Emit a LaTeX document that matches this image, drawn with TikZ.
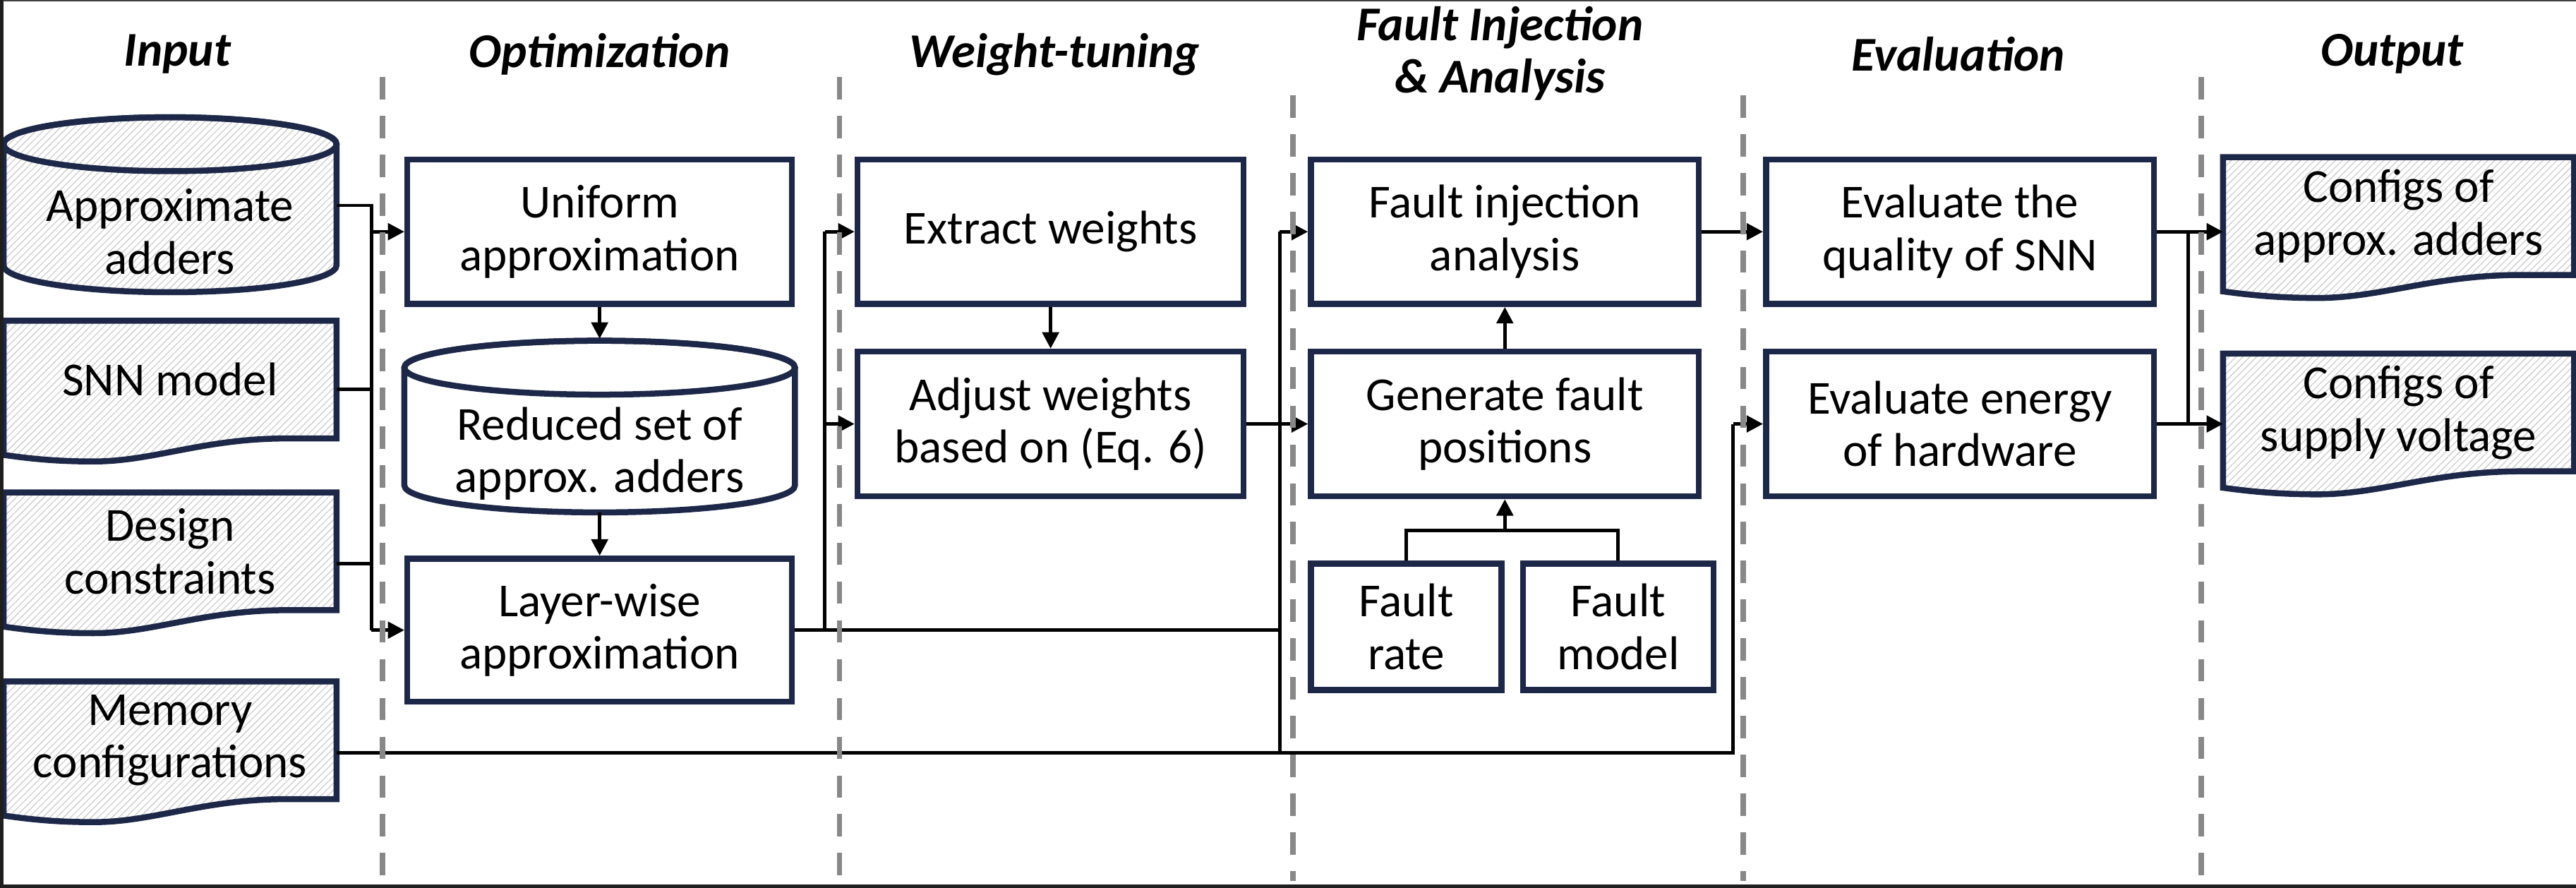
\documentclass[tikz,border=0pt]{standalone}
\usepackage{fontspec}
\setmainfont{Carlito}
\usetikzlibrary{arrows.meta,patterns,calc}
\pgfdeclarelayer{bg}
\pgfsetlayers{bg,main}
\definecolor{navy}{RGB}{29,40,72}
\definecolor{dashgray}{RGB}{136,136,136}

\tikzset{
 txt/.style={font=\fontsize{20.5}{22.8}\selectfont, align=center, inner sep=0pt},
 box/.style={txt, draw=navy, line width=2.6pt, fill=white, rectangle},
 hollow/.style={txt, rectangle, outer sep=1.3pt},
 hatch/.style={draw=navy, line width=2.6pt, preaction={fill=white}, pattern=north east lines, pattern color=gray!38},
 plainfill/.style={draw=navy, line width=2.6pt, fill=white},
 outline/.style={draw=navy, line width=2.6pt},
 head/.style={font=\fontsize{21}{22.8}\selectfont\bfseries\itshape, align=center, inner sep=0pt},
 conn/.style={line width=1.5pt, black},
 arr/.style={conn, -{Triangle[length=0.25cm,width=0.25cm]}},
 sep/.style={dashgray, line width=2.4pt, dash pattern=on 0.34cm off 0.25cm},
}

\newcommand{\docshape}[2]{%
 \path[#2] let \p1=(#1.south west), \p2=(#1.north east), \n1={\x2-\x1} in
  (\x1,\y2) -- (\x2,\y2) -- (\x2,\y1) -- (\x1+0.85*\n1,\y1)
  .. controls (\x1+0.6*\n1,\y1) and (\x1+0.45*\n1,\y1-0.35cm) .. (\x1+0.27*\n1,\y1-0.35cm)
  .. controls (\x1+0.15*\n1,\y1-0.35cm) and (\x1+0.07*\n1,\y1-0.3cm) .. (\x1,\y1-0.25cm) -- cycle;}

\newcommand{\cylshape}[3]{%
 \path[#2] let \p1=(#1.south west), \p2=(#1.north east), \n1={(\x2-\x1)/2} in
  (\x1,\y2+#3) -- (\x1,\y1+#3) arc[start angle=180,end angle=360,x radius=\n1,y radius=#3]
  -- (\x2,\y2+#3) arc[start angle=0,end angle=180,x radius=\n1,y radius=#3] -- cycle;
 \path[outline] let \p1=(#1.south west), \p2=(#1.north east), \n1={(\x2-\x1)/2} in
  (\x1+\n1,\y2+#3) ellipse[x radius=\n1,y radius=#3];}

\begin{document}
\begin{tikzpicture}[x=0.025cm,y=-0.025cm]
\useasboundingbox (0,0) rectangle (1568,540.4);

% headers
\node[head] (hIn) at (108,33) {Input};
\node[head] (hOpt) at (365,33) {Optimization};
\node[head] (hWt) at (642,33) {Weight-tuning};
\node[head] (hFi) at (913,32.5) {Fault Injection\\\& Analysis};
\node[head] (hEv) at (1192,33) {Evaluation};
\node[head] (hOut) at (1456,33) {Output};

% input column
\node[hollow, minimum width=4.975cm, minimum height=1.75cm] (cadd) at (103.5,141) {Approximate\\adders};
\node[hollow, minimum width=4.975cm, minimum height=1.7cm] (snn) at (103.5,231) {SNN model};
\node[hollow, minimum width=4.975cm, minimum height=1.7cm] (des) at (103.5,335.5) {Design\\constraints};
\node[hollow, minimum width=4.975cm, minimum height=1.7cm] (mem) at (103.5,450.5) {Memory\\configurations};

% optimization
\node[box, minimum width=5.85cm, minimum height=2.2cm] (uni) at (365,141) {Uniform\\approximation};
\node[hollow, minimum width=5.85cm, minimum height=1.7cm] (cred) at (365,276) {Reduced set of\\approx. adders};
\node[box, minimum width=5.85cm, minimum height=2.175cm] (lay) at (365,383.5) {Layer-wise\\approximation};

% weight tuning
\node[box, minimum width=5.875cm, minimum height=2.2cm] (ext) at (639.5,141) {Extract weights};
\node[box, minimum width=5.875cm, minimum height=2.2cm] (adj) at (639.5,258) {Adjust weights\\based on (Eq. 6)};

% fault injection
\node[box, minimum width=5.9cm, minimum height=2.2cm] (fia) at (916,141) {Fault injection\\analysis};
\node[box, minimum width=5.9cm, minimum height=2.2cm] (gen) at (916,258) {Generate fault\\positions};
\node[box, minimum width=2.9cm, minimum height=1.925cm] (frate) at (856,381.5) {Fault\\rate};
\node[box, minimum width=2.9cm, minimum height=1.925cm] (fmodel) at (985,381.5) {Fault\\model};

% evaluation
\node[box, minimum width=5.9cm, minimum height=2.2cm] (evq) at (1193,141) {Evaluate the\\quality of SNN};
\node[box, minimum width=5.9cm, minimum height=2.2cm] (eve) at (1193,258) {Evaluate energy\\of hardware};

% output
\node[hollow, minimum width=5.25cm, minimum height=1.7cm] (oadd) at (1460,131.5) {Configs of\\approx. adders};
\node[hollow, minimum width=5.25cm, minimum height=1.7cm] (ovol) at (1460,251) {Configs of\\supply voltage};

\begin{pgfonlayer}{bg}
 \cylshape{cadd}{hatch}{0.41cm}
 \cylshape{cred}{plainfill}{0.41cm}
 \docshape{snn}{hatch}
 \docshape{des}{hatch}
 \docshape{mem}{hatch}
 \docshape{oadd}{hatch}
 \docshape{ovol}{hatch}
\end{pgfonlayer}

% input bus
\coordinate (bA) at (226,125);
\coordinate (bS) at (226,237);
\coordinate (bD) at (226,343);
\coordinate (bU) at (226,141);
\coordinate (bL) at (226,383.5);
\draw[conn] (cadd.east |- bA) -- (bA) -- (bL);
\draw[conn] (snn.east |- bS) -- (bS);
\draw[conn] (des.east |- bD) -- (bD);
\draw[arr] (bU) -- (uni.west);
\draw[arr] (bL) -- (lay.west);

\coordinate (credtop) at ($(cred.north)+(0,-34)$);
\draw[arr] (uni.south) -- (credtop);
\draw[arr] (cred.south) -- (lay.north);

% weight tuning branch
\coordinate (wT) at (502,141);
\coordinate (wM) at (502,258);
\coordinate (wB) at (502,383.5);
\coordinate (fT) at (779,141);
\coordinate (fB) at (779,383.5);
\coordinate (fM) at (779,458);
\draw[conn] (lay.east) -- (fB);
\draw[conn] (wT) -- (wB);
\draw[arr] (wT) -- (ext.west);
\draw[arr] (wM) -- (adj.west);
\draw[conn] (fT) -- (fM);
\draw[arr] (fT) -- (fia.west);
\draw[arr] (ext.south) -- (adj.north);
\draw[arr] (adj.east) -- (gen.west);
\draw[arr] (gen.north) -- (fia.south);

\coordinate (jL) at (856,323);
\coordinate (jM) at (916,323);
\coordinate (jR) at (985,323);
\draw[conn] (frate.north) -- (jL) -- (jR) -- (fmodel.north);
\draw[arr] (jM) -- (gen.south);

% memory line
\coordinate (mE) at (1055,458);
\coordinate (mU) at (1055,258);
\draw[conn] (mem.east |- fM) -- (mE) -- (mU);
\draw[arr] (mU) -- (eve.west);

% evaluation and output
\draw[arr] (fia.east) -- (evq.west);
\draw[arr] (evq.east) -- (evq.east -| oadd.west);
\draw[arr] (eve.east) -- (eve.east -| ovol.west);
\coordinate (oT) at (1332,141);
\coordinate (oB) at (1332,258);
\draw[conn] (oT) -- (oB);

% column separators
\foreach \xx/\tt in {233/47,511/47,787/58,1061/58,1340/47}
  \draw[sep] (\xx,\tt) -- (\xx,536);

% frame
\draw[line width=0.6pt, black!75] (0,0.4) -- (1568,0.4);
\draw[line width=1.6pt, black!88] (0.9,0) -- (0.9,540.4);
\draw[line width=1.6pt, black!88] (0,539.5) -- (1568,539.5);
\end{tikzpicture}
\end{document}
